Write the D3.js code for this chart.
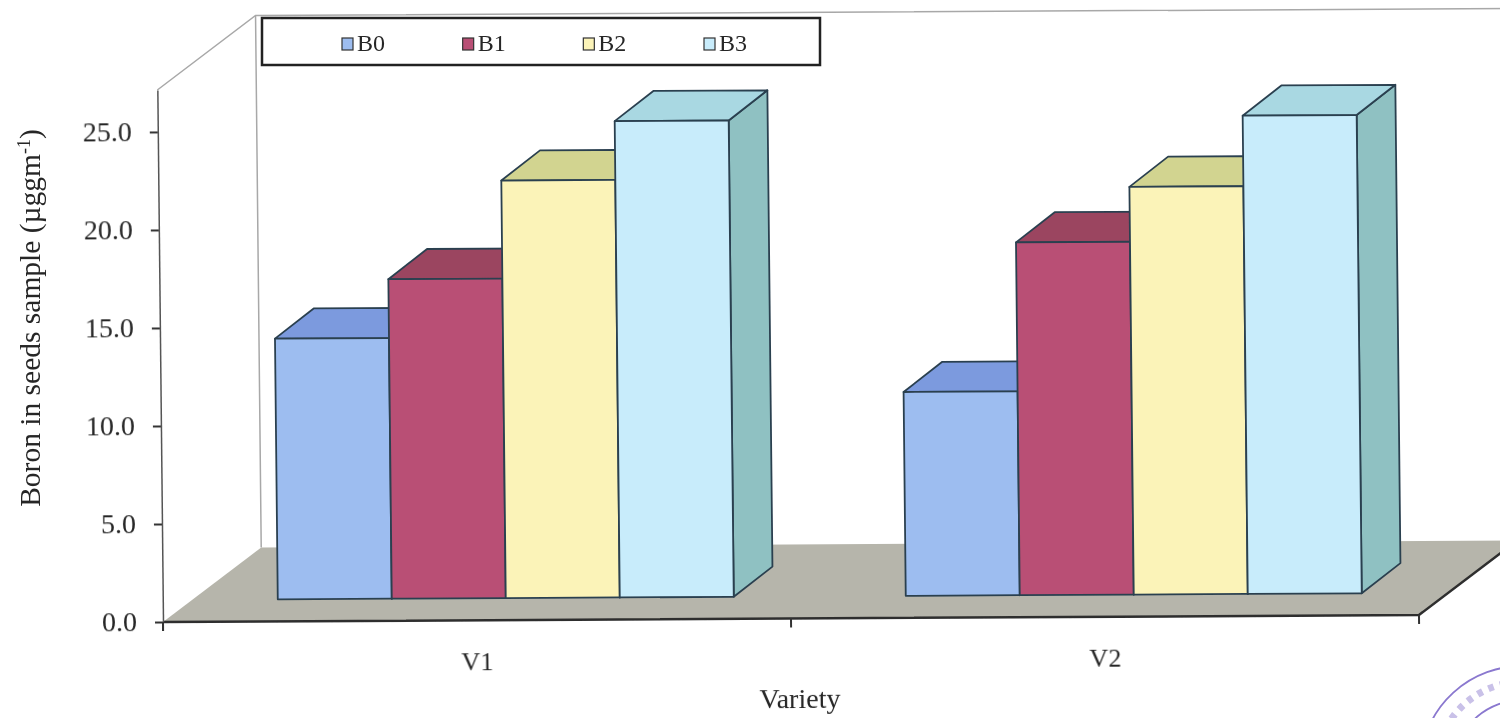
<!DOCTYPE html>
<html>
<head>
<meta charset="utf-8">
<script src="https://cdn.jsdelivr.net/npm/d3@7"></script>
<style>
  html, body { margin: 0; padding: 0; background: #fff; overflow: hidden; }
  text { font-family: "Liberation Serif", serif; fill: #262626; }
</style>
</head>
<body>
<div id="chart"></div>
<script>
const categories = ["V1", "V2"];
const seriesNames = ["B0", "B1", "B2", "B3"];
const b0Values = [13.3, 10.4];
const b1Values = [16.3, 18.0];
const b2Values = [21.3, 20.8];
const b3Values = [24.3, 24.4];
const yTicks = [0, 5, 10, 15, 20, 25];

const seriesValues = [b0Values, b1Values, b2Values, b3Values];
const frontColors = ["#9dbdf0", "#b94f74", "#fbf3b8", "#c8ecfb"];
const topColors = ["#7c9ade", "#9b4560", "#d2d490", "#a9d8e2"];
const sideColors = ["#6f8cc8", "#8a3d56", "#c4c47e", "#8fc1c2"];

const width = 1500;
const height = 718;
const originX = 163;
const originY = 622;
const plotWidth = 1256;
const floorDx = 99;
const floorDy = -74;
const barDx = 39;
const barDy = -30;
const barInsetX = 29;
const barInsetY = -22;

const svg = d3.select("#chart")
    .append("svg")
    .attr("width", width)
    .attr("height", height)
    .style("display", "block");

// soft edges like the scan
svg.append("filter")
    .attr("id", "soft")
    .append("feGaussianBlur")
    .attr("stdDeviation", 0.5);

const page = svg.append("g").attr("filter", "url(#soft)");

// the scan is a little crooked, so the whole plot gets a small rotation and skew
const g = page.append("g")
    .attr("transform", `translate(${originX},${originY}) rotate(-0.32) skewX(0.29)`);

const x0 = d3.scaleBand().domain(categories).range([0, plotWidth]);
const x1 = d3.scaleBand().domain(seriesNames).range([86, x0.bandwidth() - 86]);
const y = d3.scaleLinear().domain([0, 27.14]).range([0, -532]);

// walls
const wallTop = y(27.14);
g.append("path")
    .attr("d", `M0,${wallTop}L${floorDx},${wallTop + floorDy}L${plotWidth + floorDx},${wallTop + floorDy}M${floorDx},${wallTop + floorDy}L${floorDx},${floorDy}`)
    .attr("fill", "none")
    .attr("stroke", "#a8a8a8")
    .attr("stroke-width", 1.5);

// floor
g.append("polygon")
    .attr("points", [[0, 0], [plotWidth, 0], [plotWidth + floorDx, floorDy], [floorDx, floorDy]].join(" "))
    .attr("fill", "#b6b5ab");
g.append("path")
    .attr("d", `M0,0L${plotWidth},0L${plotWidth + floorDx},${floorDy}`)
    .attr("fill", "none")
    .attr("stroke", "#2e2e2e")
    .attr("stroke-width", 2.5);

// bars, left to right so each one hides the side of the one before
categories.forEach((cat, c) => {
    seriesNames.forEach((name, s) => {
        const xl = x0(cat) + x1(name) + barInsetX;
        const xr = xl + x1.bandwidth();
        const yt = y(seriesValues[s][c]) + barInsetY;
        const yb = y(0) + barInsetY;
        const bar = g.append("g")
            .attr("stroke", "#2b4050")
            .attr("stroke-width", 1.8)
            .attr("stroke-linejoin", "round");

        bar.append("polygon")
            .attr("points", [[xr, yt], [xr + barDx, yt + barDy], [xr + barDx, yb + barDy], [xr, yb]].join(" "))
            .attr("fill", sideColors[s]);
        bar.append("polygon")
            .attr("points", [[xl, yt], [xl + barDx, yt + barDy], [xr + barDx, yt + barDy], [xr, yt]].join(" "))
            .attr("fill", topColors[s]);
        bar.append("rect")
            .attr("x", xl)
            .attr("y", yt)
            .attr("width", x1.bandwidth())
            .attr("height", yb - yt)
            .attr("fill", frontColors[s]);
    });
});

// y axis
const yAxis = g.append("g")
    .call(d3.axisLeft(y).tickValues(yTicks).tickFormat(d3.format(".1f")).tickSize(8).tickSizeOuter(0).tickPadding(18));
yAxis.select(".domain").attr("stroke", "#555").attr("stroke-width", 1.5);
yAxis.selectAll("line").attr("stroke", "#333").attr("stroke-width", 2);
yAxis.selectAll("text").attr("font-size", 28).attr("font-family", "Liberation Serif");

// x axis, labels in the middle of each band and ticks on the band edges
const xAxis = g.append("g")
    .call(d3.axisBottom(x0).tickSize(0).tickPadding(32));
xAxis.select(".domain").remove();
xAxis.selectAll("text").attr("font-size", 26).attr("font-family", "Liberation Serif");
g.selectAll(".band-tick")
    .data([0, 1, 2])
    .enter()
    .append("line")
    .attr("class", "band-tick")
    .attr("x1", d => d * x0.step())
    .attr("x2", d => d * x0.step())
    .attr("y1", 0)
    .attr("y2", 9)
    .attr("stroke", "#333")
    .attr("stroke-width", 2);

// legend
const legendX = d3.scalePoint().domain(seriesNames).range([342, 704]);
page.append("rect")
    .attr("x", 262)
    .attr("y", 18)
    .attr("width", 558)
    .attr("height", 47)
    .attr("fill", "#fff")
    .attr("stroke", "#222")
    .attr("stroke-width", 2.5);
page.selectAll(".legend-box")
    .data(seriesNames)
    .enter()
    .append("rect")
    .attr("class", "legend-box")
    .attr("x", d => legendX(d))
    .attr("y", 38)
    .attr("width", 11)
    .attr("height", 12)
    .attr("fill", (d, i) => frontColors[i])
    .attr("stroke", "#333")
    .attr("stroke-width", 1.2);
page.selectAll(".legend-label")
    .data(seriesNames)
    .enter()
    .append("text")
    .attr("class", "legend-label")
    .attr("x", d => legendX(d) + 15)
    .attr("y", 51)
    .attr("font-size", 24)
    .text(d => d);

// axis titles
page.append("text")
    .attr("transform", "translate(800,708) rotate(-0.32)")
    .attr("text-anchor", "middle")
    .attr("font-size", 28)
    .text("Variety");

const yTitle = page.append("text")
    .attr("transform", "translate(40,318) rotate(-90)")
    .attr("text-anchor", "middle")
    .attr("font-size", 29.5);
yTitle.append("tspan").text("Boron in seeds sample (µggm");
yTitle.append("tspan").attr("font-size", 18).attr("dy", -10).text("-1");
yTitle.append("tspan").attr("dy", 10).text(")");

// bit of the stamp in the corner of the scan
const stampArc = d3.arc().startAngle(-1.1).endAngle(0.4);
page.selectAll(".stamp")
    .data([102, 68])
    .enter()
    .append("path")
    .attr("class", "stamp")
    .attr("transform", "translate(1522,768)")
    .attr("d", d => stampArc({ innerRadius: d, outerRadius: d }))
    .attr("fill", "none")
    .attr("stroke", "#8a78cf")
    .attr("stroke-width", 1.8);
page.append("path")
    .attr("transform", "translate(1522,768)")
    .attr("d", stampArc({ innerRadius: 86, outerRadius: 86 }))
    .attr("fill", "none")
    .attr("stroke", "#c9c1e8")
    .attr("stroke-width", 7)
    .attr("stroke-dasharray", "5,7");
</script>
</body>
</html>
